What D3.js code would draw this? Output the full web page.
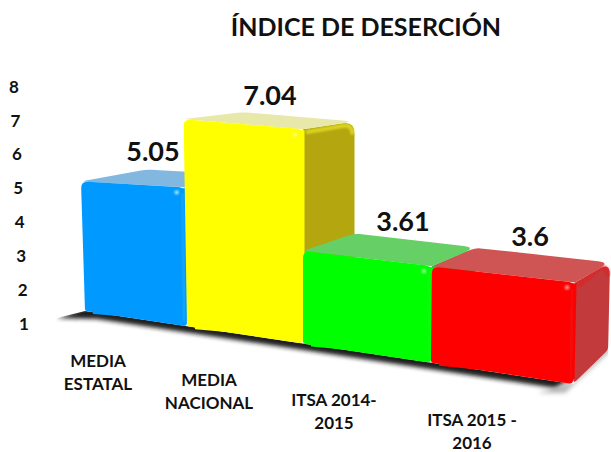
<!DOCTYPE html>
<html>
<head>
<meta charset="utf-8">
<script src="https://cdn.jsdelivr.net/npm/d3@7"></script>
<style>
html,body{margin:0;padding:0;background:#fff;overflow:hidden}
text{font-family:Lato,"Open Sans",sans-serif;font-weight:700;fill:#111}
</style>
</head>
<body>
<script>
const chartTitle = "ÍNDICE DE DESERCIÓN";
const categories = [["MEDIA","ESTATAL"],["MEDIA","NACIONAL"],["ITSA 2014-","2015"],["ITSA 2015 -","2016"]];
const values = [5.05, 7.04, 3.61, 3.6];
const valueLabels = ["5.05","7.04","3.61","3.6"];
const axisTicks = [1,2,3,4,5,6,7,8];
const frontColors = ["#0099ff","#ffff00","#00ff00","#ff0000"];
const rimColors = ["#22aaff","#fbfb30","#20f020","#ee1414"];
const topColors = ["#82b8e0","#e8e8aa","#66cf66","#cf5555"];
const sideColors = ["#4a88b0","#b3a60e","#4aa84a","#c23a3c"];
const glowColors = ["#9fe8ff","#ffff70","#90ff90","#ffa0a0"];

const W = 611, H = 452;
const svg = d3.select("body").append("svg").attr("width",W).attr("height",H).style("display","block");
const defs = svg.append("defs");
defs.append("filter").attr("id","b1").attr("x","-20%").attr("y","-20%").attr("width","140%").attr("height","140%")
  .append("feGaussianBlur").attr("stdDeviation",0.9);
defs.append("filter").attr("id","b3").attr("x","-10%").attr("y","-40%").attr("width","120%").attr("height","180%")
  .append("feGaussianBlur").attr("stdDeviation",2.2);

// Oblique projection: band index -> screen x along the floor, value -> height above the floor.
const floorX = d3.scaleLinear().domain([0,1,2,3,4]).range([85,187,303,431,573]);
const floorY = d3.scaleLinear().domain([85,573]).range([311,384]);
const pxPerUnit = d3.scaleLinear().domain([85,187,303,430,575]).range([32,34.3,35.5,37,39.1]);
const depthX = d3.scaleLinear().domain([81,575]).range([65,35]);
const depthY = d3.scaleLinear().domain([120,283,384]).range([-7,-20,-34]);
const tilt = d3.scaleLinear().domain([85,303,573]).range([-0.031,0,0.02]);

function front(i, v){           // i is a (fractional) band position, v a value
  const bx = floorX(i), by = floorY(bx), h = (v-1)*pxPerUnit(bx);
  return [bx + tilt(bx)*h, by - h];
}
function back(p){ return [p[0]+depthX(p[0]), p[1]+depthY(p[1])]; }

function rounded(pts, rs){
  const n = pts.length; let d = "";
  pts.forEach((p,k)=>{
    const a = pts[(k+n-1)%n], b = pts[(k+1)%n], r = rs[k];
    const la = Math.hypot(a[0]-p[0],a[1]-p[1]), lb = Math.hypot(b[0]-p[0],b[1]-p[1]);
    const s=[p[0]+(a[0]-p[0])*r/la,p[1]+(a[1]-p[1])*r/la], e=[p[0]+(b[0]-p[0])*r/lb,p[1]+(b[1]-p[1])*r/lb];
    d += (k?"L":"M")+s[0]+","+s[1]+"Q"+p[0]+","+p[1]+" "+e[0]+","+e[1];
  });
  return d+"Z";
}

// floor shadow: soft below the floor edge, crisp above it
const baseA = front(0,1), baseZ = front(4,1), baseZb = back(baseZ);
defs.append("clipPath").attr("id","floor").append("path")
  .attr("d", d3.line()([[baseA[0]-28,baseA[1]+7],baseA,baseZ,baseZb,[W,H],[0,H]])+"Z");
const shadow = svg.append("g").attr("clip-path","url(#floor)");
shadow.append("path").attr("filter","url(#b3)").attr("fill","#1c1c1c")
  .attr("d", d3.line()([[baseA[0]-28,baseA[1]+7],[baseA[0],baseA[1]-3],[baseZ[0],baseZ[1]-6],[baseZ[0]-18,baseZ[1]+4],[baseA[0]+12,baseA[1]+8]]));
shadow.append("path").attr("filter","url(#b3)").attr("fill","#999").attr("opacity",.7)
  .attr("d", d3.line()([[baseZ[0]-35,baseZ[1]+9],[baseZ[0]-8,baseZ[1]+9],[baseZb[0]+1,baseZb[1]+2],[baseZb[0],baseZb[1]-6],[baseZ[0],baseZ[1]-2]]));

// bars, drawn left to right so each one covers its neighbour's side
const bars = svg.append("g").selectAll("g").data(values).join("g");
bars.each(function(v,i){
  const g = d3.select(this);
  const fl = front(i,1), fr = front(i+1,1), tl = front(i,v), tr = front(i+1,v);
  const btl = back(tl), btr = back(tr), bbr = back(fr);
  g.append("path").attr("fill",sideColors[i]).attr("d",rounded([tr,btr,bbr,fr],[0,12,3,5]));
  g.append("path").attr("fill","none").attr("stroke",rimColors[i]).attr("stroke-opacity",.55).attr("stroke-width",4)
    .attr("filter","url(#b1)")
    .attr("d",`M${tr[0]+3},${tr[1]+3}L${btr[0]-9},${btr[1]+4}Q${btr[0]-2},${btr[1]+4} ${btr[0]-2},${btr[1]+13}`);
  g.append("path").attr("fill",topColors[i]).attr("d",rounded([tl,btl,btr,tr],[5,5,12,0]));
  // backing keeps the rounded front corners from showing the page through
  g.append("path").attr("fill",frontColors[i]).attr("d",d3.line()([[tl[0]+8,tl[1]+6],[tr[0]+1.5,tr[1]+1],[fr[0]+1.5,fr[1]-5],[fl[0]+8,fl[1]+3]])+"Z");
  g.append("path").attr("fill",frontColors[i]).attr("d",rounded([tl,tr,fr,fl],[7,7,4,2]));
  g.append("path").attr("fill","none").attr("stroke",rimColors[i]).attr("stroke-width",2).attr("filter","url(#b1)")
    .attr("d",`M${tr[0]-2.5},${tr[1]+6}L${fr[0]-2.5},${fr[1]-5}`);
  g.append("circle").attr("cx",tr[0]-8).attr("cy",tr[1]+5).attr("r",2.2).attr("fill",glowColors[i]).attr("filter","url(#b1)");
});

// value axis, running along the slanted left side
const yAxisScale = d3.scaleLinear().domain([1,8]).range([323.5,86]);
const yAxisX = d3.scaleLinear().domain([1,8]).range([24,14]);
const ax = svg.append("g").call(d3.axisLeft(yAxisScale).tickValues(axisTicks).tickSize(0).tickFormat(d3.format("d")));
ax.select(".domain").remove();
ax.attr("font-family",null).attr("font-size",null);
ax.selectAll(".tick text").attr("x",d=>yAxisX(d)).attr("dy",".36em").attr("text-anchor","middle").style("font-size","17px");

// data labels
const labelX = d3.scaleLinear().domain([0,1,2,3]).range([153,270,403,530]);
const labelLift = d3.scaleLinear().domain([3.6,5.05,7.04]).range([9,11,12]);
svg.append("g").selectAll("text").data(values).join("text")
  .attr("x",(d,i)=>labelX(i))
  .attr("y",(d,i)=>{ const a=back(front(i,d)), b=back(front(i+1,d)); return (a[1]+b[1])/2 - labelLift(d); })
  .attr("text-anchor","middle").style("font-size","27px")
  .text((d,i)=>valueLabels[i]);

// category labels
const catX = d3.scaleLinear().domain([0,1,2,3]).range([98,209,334,472]);
const catY = d3.scaleLinear().domain([0,1,2,3]).range([361,380,400,420]);
const cats = svg.append("g").selectAll("text").data(categories).join("text")
  .attr("text-anchor","middle").style("font-size","17px");
cats.selectAll("tspan").data((d,i)=>d.map((t,k)=>({t,k,i}))).join("tspan")
  .attr("x",d=>catX(d.i)).attr("y",d=>catY(d.i)+6+d.k*22.5).text(d=>d.t);

// title
svg.append("text").attr("x",366).attr("y",36).attr("text-anchor","middle").style("font-size","25px").text(chartTitle);
</script>
</body>
</html>
